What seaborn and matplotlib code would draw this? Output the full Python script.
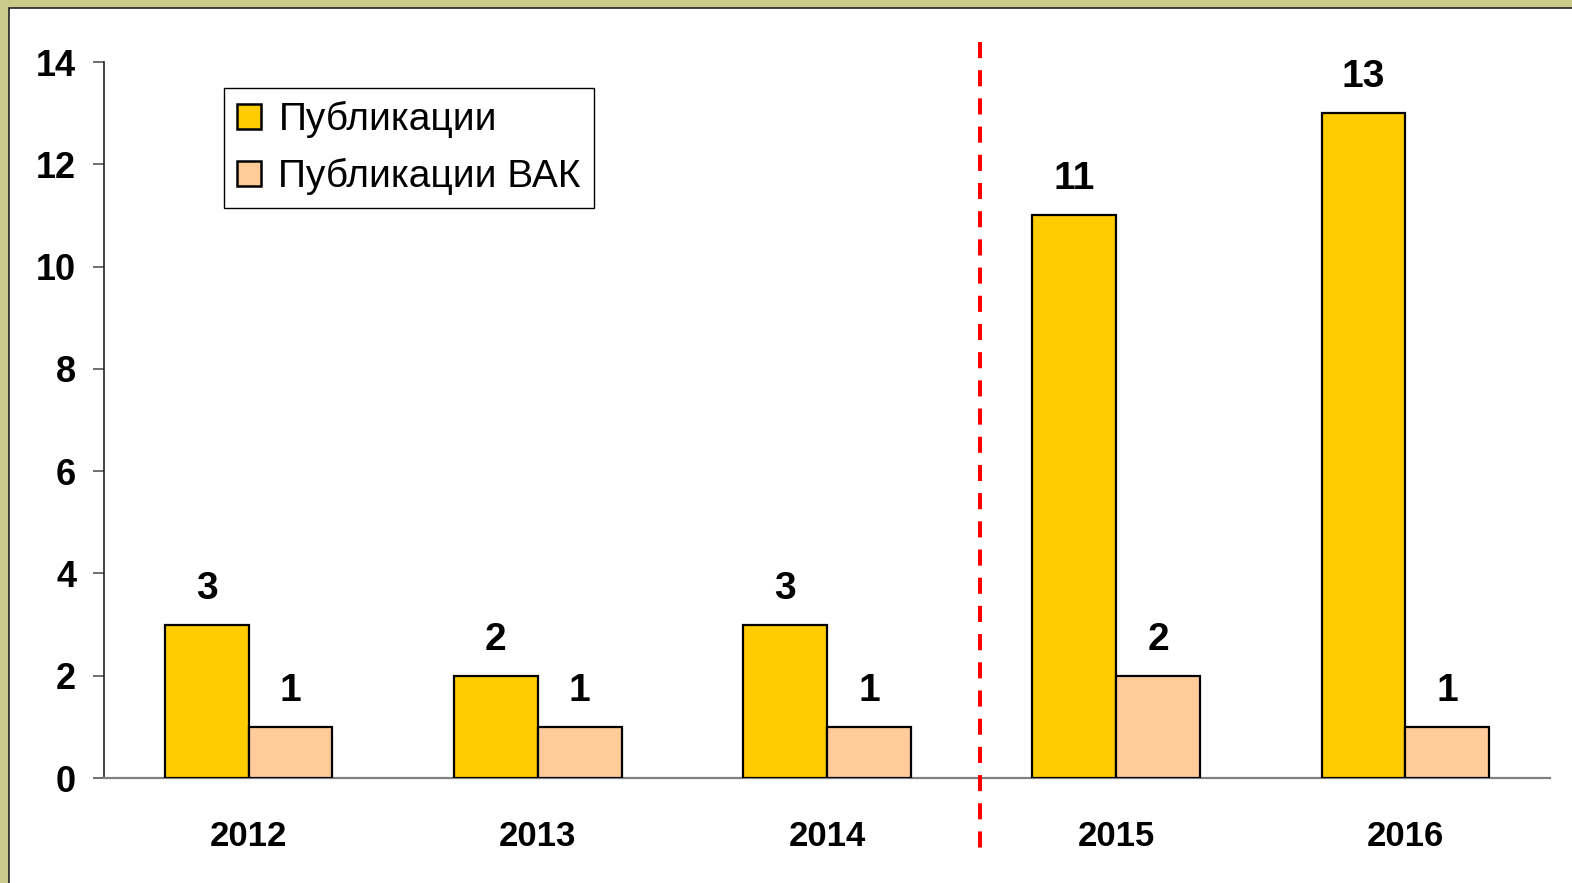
import matplotlib
matplotlib.use("Agg")
import matplotlib.pyplot as plt
from matplotlib.patches import Rectangle
from matplotlib.ticker import FixedLocator
import matplotlib.transforms as mtransforms
import seaborn as sns
import pandas as pd

years = ["2012", "2013", "2014", "2015", "2016"]
pubs = [3, 2, 3, 11, 13]
pubs_vak = [1, 1, 1, 2, 1]
series_names = ["Публикации", "Публикации ВАК"]
y_ticks = [0, 2, 4, 6, 8, 10, 12, 14]
divider_after = "2014"

df = pd.DataFrame({
    "year": years * 2,
    "value": pubs + pubs_vak,
    "series": [series_names[0]] * len(years) + [series_names[1]] * len(years),
})

sns.set_style("white")
plt.rcParams["font.family"] = ["Liberation Sans", "DejaVu Sans"]
plt.rcParams["text.color"] = "black"
plt.rcParams["xtick.color"] = "black"
plt.rcParams["ytick.color"] = "black"
plt.rcParams["axes.labelcolor"] = "black"

fig = plt.figure(figsize=(15.72, 8.83), dpi=100, facecolor="#CBCB8A")
W, H = 1572, 883
# white panel with dark border
panel = Rectangle((9 / W, -0.01), 1.0, 1 - 8 / H + 0.01, transform=fig.transFigure,
                  facecolor="white", edgecolor="#222222", linewidth=1.2, zorder=-10)
fig.patches.append(panel)

ax = fig.add_axes([104 / W, 1 - 778 / H, (1550 - 104) / W, (778 - 62) / H], zorder=5)
ax.set_facecolor("none")

palette = {series_names[0]: "#FFCC00", series_names[1]: "#FFCC99"}
sns.barplot(data=df, x="year", y="value", hue="series", order=years,
            hue_order=series_names, palette=palette, width=0.58,
            edgecolor="black", linewidth=1.6, saturation=1, ax=ax, zorder=3)

for cont in ax.containers:
    ax.bar_label(cont, padding=13, fontsize=28, fontweight="bold", color="black")

ax.set_xlim(-0.5, len(years) - 0.5)
ax.set_ylim(0, 14)
ax.set_yticks(y_ticks)
ax.set_xlabel("")
ax.set_ylabel("")

for s in ["top", "right"]:
    ax.spines[s].set_visible(False)
ax.spines["left"].set_color("#222222")
ax.spines["left"].set_linewidth(1.2)
ax.spines["bottom"].set_color("#808080")
ax.spines["bottom"].set_linewidth(1.6)

ax.tick_params(axis="y", which="major", direction="out", length=8, width=1.2,
               color="#555555", labelcolor="black", pad=12, labelsize=26)
ax.tick_params(axis="x", which="major", length=0, pad=30, labelsize=25,
               labelcolor="black")
ax.xaxis.set_minor_locator(FixedLocator([i - 0.5 for i in range(len(years) + 1)]))
ax.tick_params(axis="x", which="minor", direction="out", length=8, width=1.2,
               color="#333333")
ax.tick_params(left=True, bottom=True)
for lbl in ax.get_yticklabels() + ax.get_xticklabels():
    lbl.set_fontweight("bold")

# dashed red divider (drawn from top down)
xpos = years.index(divider_after) + 0.53
trans = mtransforms.blended_transform_factory(ax.transData, ax.transAxes)
ax.plot([xpos, xpos], [1.028, -0.112], transform=trans, color="red",
        linewidth=2.9, linestyle=(0, (4, 3)), clip_on=False, zorder=4)

leg = ax.legend(loc="upper left", bbox_to_anchor=(224 / W, 1 - 88 / H),
                bbox_transform=fig.transFigure, fontsize=28, frameon=True,
                fancybox=False, edgecolor="black", framealpha=1,
                handlelength=0.62, handleheight=0.62, handletextpad=0.45,
                borderpad=0.33, labelspacing=0.52, borderaxespad=0,
                labelcolor="black")
leg.get_frame().set_linewidth(1.0)
leg.set_title(None)
for h in leg.legend_handles:
    h.set_edgecolor("black")
    h.set_linewidth(1.8)

fig.savefig("out.png", dpi=100, facecolor=fig.get_facecolor())
